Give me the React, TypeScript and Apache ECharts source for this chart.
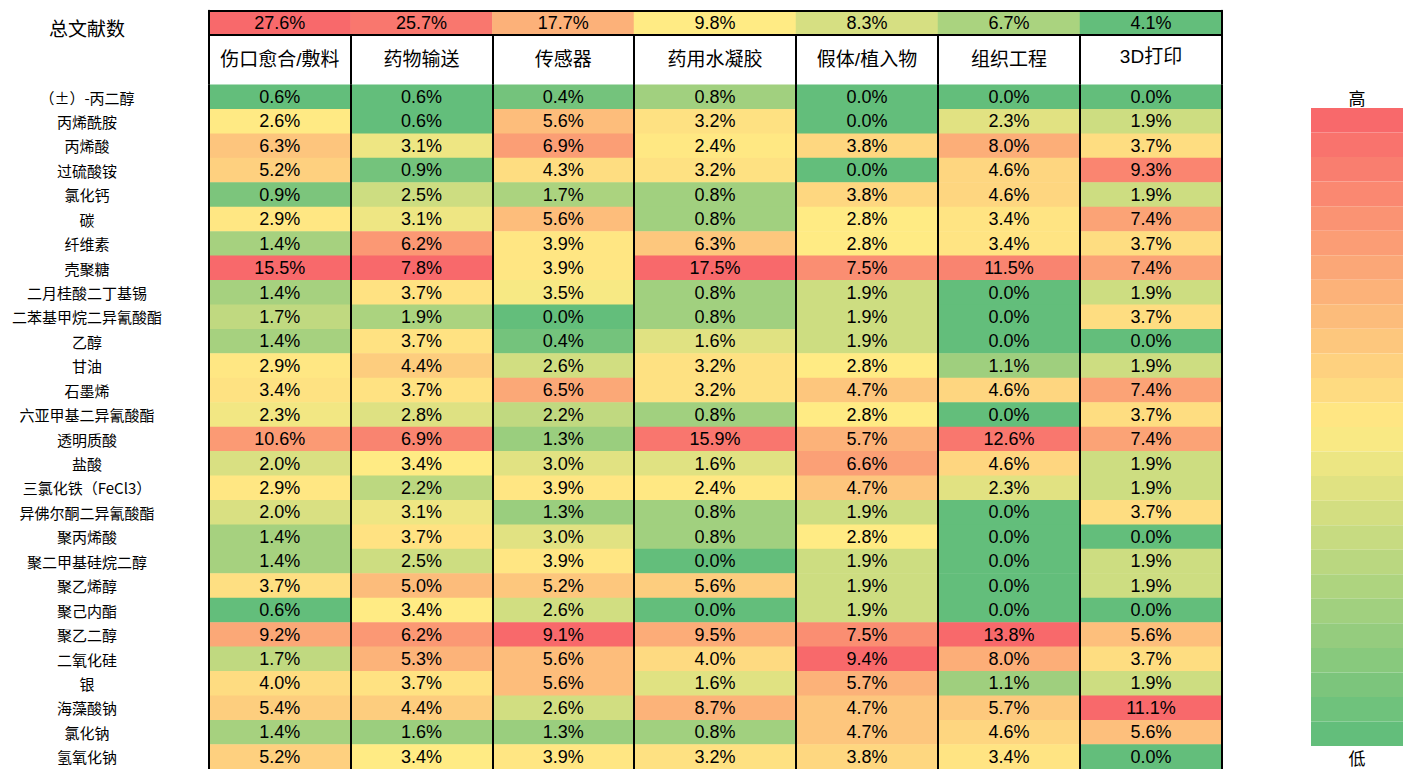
import React, { useEffect, useRef } from 'react';
import * as echarts from 'echarts';

// ---------- data ----------
const columns = ['伤口愈合/敷料', '药物输送', '传感器', '药用水凝胶', '假体/植入物', '组织工程', '3D打印'];
const totals = [27.6, 25.7, 17.7, 9.8, 8.3, 6.7, 4.1];
const totalLabel = ['总文献数'];
const materials = [
  '（±）-丙二醇', '丙烯酰胺', '丙烯酸', '过硫酸铵', '氯化钙', '碳', '纤维素', '壳聚糖',
  '二月桂酸二丁基锡', '二苯基甲烷二异氰酸酯', '乙醇', '甘油', '石墨烯', '六亚甲基二异氰酸酯',
  '透明质酸', '盐酸', '三氯化铁（FeCl3）', '异佛尔酮二异氰酸酯', '聚丙烯酸', '聚二甲基硅烷二醇',
  '聚乙烯醇', '聚己内酯', '聚乙二醇', '二氧化硅', '银', '海藻酸钠', '氯化钠', '氢氧化钠',
];
const woundDressing = [0.6, 2.6, 6.3, 5.2, 0.9, 2.9, 1.4, 15.5, 1.4, 1.7, 1.4, 2.9, 3.4, 2.3, 10.6, 2.0, 2.9, 2.0, 1.4, 1.4, 3.7, 0.6, 9.2, 1.7, 4.0, 5.4, 1.4, 5.2];
const drugDelivery = [0.6, 0.6, 3.1, 0.9, 2.5, 3.1, 6.2, 7.8, 3.7, 1.9, 3.7, 4.4, 3.7, 2.8, 6.9, 3.4, 2.2, 3.1, 3.7, 2.5, 5.0, 3.4, 6.2, 5.3, 3.7, 4.4, 1.6, 3.4];
const sensor = [0.4, 5.6, 6.9, 4.3, 1.7, 5.6, 3.9, 3.9, 3.5, 0.0, 0.4, 2.6, 6.5, 2.2, 1.3, 3.0, 3.9, 1.3, 3.0, 3.9, 5.2, 2.6, 9.1, 5.6, 5.6, 2.6, 1.3, 3.9];
const hydrogel = [0.8, 3.2, 2.4, 3.2, 0.8, 0.8, 6.3, 17.5, 0.8, 0.8, 1.6, 3.2, 3.2, 0.8, 15.9, 1.6, 2.4, 0.8, 0.8, 0.0, 5.6, 0.0, 9.5, 4.0, 1.6, 8.7, 0.8, 3.2];
const implant = [0.0, 0.0, 3.8, 0.0, 3.8, 2.8, 2.8, 7.5, 1.9, 1.9, 1.9, 2.8, 4.7, 2.8, 5.7, 6.6, 4.7, 1.9, 2.8, 1.9, 1.9, 1.9, 7.5, 9.4, 5.7, 4.7, 4.7, 3.8];
const tissueEng = [0.0, 2.3, 8.0, 4.6, 4.6, 3.4, 3.4, 11.5, 0.0, 0.0, 0.0, 1.1, 4.6, 0.0, 12.6, 4.6, 2.3, 0.0, 0.0, 0.0, 0.0, 0.0, 13.8, 8.0, 1.1, 5.7, 4.6, 3.4];
const printing3d = [0.0, 1.9, 3.7, 9.3, 1.9, 7.4, 3.7, 7.4, 1.9, 3.7, 0.0, 1.9, 7.4, 3.7, 7.4, 1.9, 1.9, 3.7, 0.0, 1.9, 1.9, 0.0, 5.6, 3.7, 1.9, 11.1, 5.6, 0.0];
const columnValues = [woundDressing, drugDelivery, sensor, hydrogel, implant, tissueEng, printing3d];
const legendText = ['高', '低'];

// ---------- layout / style ----------
const colors = ['#63BE7B', '#FFEB84', '#F8696B'];
const groups = [[0, 1, 2], [3], [4, 5, 6]];
const groupEdges = [209, 634, 796, 1222];
const totalTop = 10.7;
const totalBottom = 34.3;
const dataTop = 84.8;
const rowH = 24.44;
const numFont = 'Liberation Sans, Arial, Noto Sans CJK SC, sans-serif';
const cjkFont = 'Noto Sans CJK SC, sans-serif';
const BORDER = { color: '#000', width: 2 };

// Excel-like 3-colour scale: min -> 0, median -> 0.5, max -> 1
function excelScale(values: number[]) {
  const s = [...values].sort((a, b) => a - b);
  const n = s.length;
  const mid = n % 2 ? s[(n - 1) / 2] : (s[n / 2 - 1] + s[n / 2]) / 2;
  const lo = s[0];
  const hi = s[n - 1];
  return (v: number) =>
    v <= mid ? (mid === lo ? 0 : (0.5 * (v - lo)) / (mid - lo)) : 0.5 + (0.5 * (v - mid)) / (hi - mid);
}

function buildOption() {
  const grid: any[] = [];
  const xAxis: any[] = [];
  const yAxis: any[] = [];
  const series: any[] = [];
  const totalNorm = excelScale(totals);
  const fmt = (p: any) => p.value[2].toFixed(1) + '%';

  groups.forEach((cols, g) => {
    const left = groupEdges[g];
    const width = groupEdges[g + 1] - groupEdges[g];
    // data grid
    grid.push({ left, top: dataTop, width, height: rowH * materials.length });
    xAxis.push({
      type: 'category', gridIndex: g, position: 'top', z: 10,
      data: cols.map((c) => columns[c]),
      axisLine: { show: false },
      axisTick: { show: true, interval: 0, length: dataTop - totalBottom, inside: false, lineStyle: BORDER },
      splitLine: { show: true, interval: 0, lineStyle: BORDER },
      axisLabel: {
        interval: 0, margin: 25.8, verticalAlign: 'middle', fontSize: 19, color: '#000', fontFamily: numFont,
        formatter: (v: string) => (v === '3D打印' ? `{up|${v}}` : v),
        rich: { up: { fontSize: 19, color: '#000', fontFamily: numFont, padding: [0, 0, 5, 0] } },
      },
    });
    yAxis.push({
      type: 'category', gridIndex: g, inverse: true, z: 10, data: materials,
      axisLine: { show: false }, axisTick: { show: false }, splitLine: { show: false },
      axisLabel: { show: g === 0, interval: 0, margin: 122, align: 'center', fontSize: 15, color: '#000', fontFamily: cjkFont },
    });
    const data: any[] = [];
    cols.forEach((c, j) => {
      const norm = excelScale(columnValues[c]);
      columnValues[c].forEach((v, r) => data.push([j, r, v, norm(v)]));
    });
    series.push({
      type: 'heatmap', xAxisIndex: g, yAxisIndex: g, data, z: 2,
      itemStyle: { borderWidth: 0 },
      label: { show: true, formatter: fmt, fontSize: 18, color: '#000', fontFamily: numFont },
      emphasis: { disabled: true },
    });
  });

  groups.forEach((cols, g) => {
    const left = groupEdges[g];
    const width = groupEdges[g + 1] - groupEdges[g];
    const gi = 3 + g;
    grid.push({ left, top: totalTop, width, height: totalBottom - totalTop });
    xAxis.push({
      type: 'category', gridIndex: gi, position: 'bottom', z: 10, data: cols.map((c) => columns[c]),
      axisLine: { show: true, lineStyle: BORDER }, axisTick: { show: false }, axisLabel: { show: false },
    });
    xAxis.push({
      type: 'category', gridIndex: gi, position: 'top', z: 10, data: cols.map((c) => columns[c]),
      axisLine: { show: true, lineStyle: BORDER }, axisTick: { show: false }, axisLabel: { show: false },
    });
    yAxis.push({
      type: 'category', gridIndex: gi, position: 'left', z: 10, data: totalLabel,
      axisLine: { show: g === 0, lineStyle: BORDER }, axisTick: { show: false },
      axisLabel: {
        show: g === 0, margin: 122, align: 'center', color: '#000',
        formatter: (v: string) => `{t|${v}}`,
        rich: { t: { fontSize: 19, color: '#000', fontFamily: cjkFont, padding: [10, 0, 0, 0] } },
      },
    });
    series.push({
      type: 'heatmap', xAxisIndex: 3 + 2 * g, yAxisIndex: gi, z: 2,
      data: cols.map((c, j) => [j, 0, totals[c], totalNorm(totals[c])]),
      itemStyle: { borderWidth: 0 },
      label: { show: true, formatter: fmt, fontSize: 18, color: '#000', fontFamily: numFont },
      emphasis: { disabled: true },
    });
  });
  // right border of the total row
  yAxis.push({
    type: 'category', gridIndex: 5, position: 'right', z: 10, data: totalLabel,
    axisLine: { show: true, lineStyle: BORDER }, axisTick: { show: false }, axisLabel: { show: false },
  });

  return {
    animation: false,
    backgroundColor: '#fff',
    grid, xAxis, yAxis, series,
    visualMap: [
      {
        type: 'continuous', show: false, dimension: 3, min: 0, max: 1,
        seriesIndex: series.map((_, i) => i),
        inRange: { color: colors },
      },
      {
        type: 'piecewise', seriesIndex: [], min: 0, max: 26, splitNumber: 26,
        showLabel: false, itemSymbol: 'rect', itemWidth: 92, itemHeight: 24.54, itemGap: 0,
        selectedMode: false, hoverLink: false, padding: 0,
        text: legendText,
        textStyle: { fontSize: 17, color: '#000', fontFamily: cjkFont, lineHeight: 22 },
        right: 19, top: 86,
        inRange: { color: colors },
      },
    ],
  };
}

export default function App() {
  const ref = useRef<HTMLDivElement>(null);
  useEffect(() => {
    if (!ref.current) return;
    const chart = echarts.init(ref.current, null, { renderer: 'svg' });
    chart.setOption(buildOption() as any);
    return () => chart.dispose();
  }, []);
  return <div ref={ref} style={{ position: 'absolute', left: 0, top: 0, width: 1422, height: 769, background: '#fff' }} />;
}
